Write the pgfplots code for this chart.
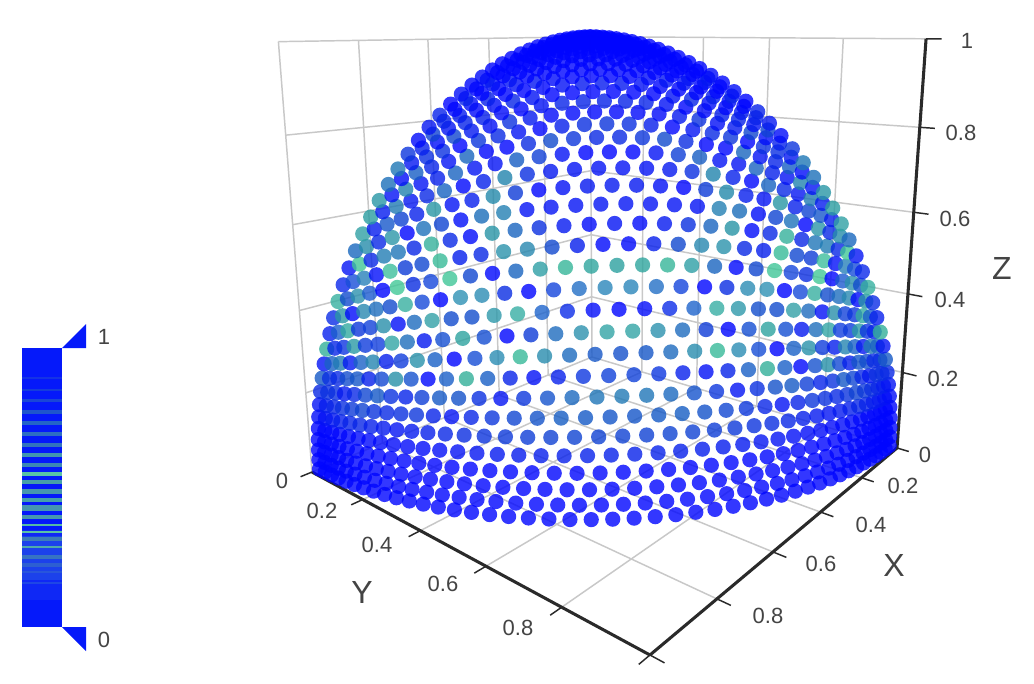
\documentclass[border=0pt]{standalone}
\usepackage{pgfplots}
\usepackage{pgfplotstable}
\usepackage{fontspec}
\setmainfont{Liberation Sans}
\pgfplotsset{compat=1.18}
\definecolor{gridg}{RGB}{200,200,200}
\definecolor{axk}{RGB}{42,42,42}
\definecolor{txt}{RGB}{68,68,68}
\definecolor{barb}{RGB}{5,25,250}
\newcommand{\U}[4]{(592*(#4)-360.06*(#1)+109.8*(#2)-45.5*(#3))/((#4)-0.2566*(#1)-0.2176*(#2)-0.0737*(#3))}
\newcommand{\V}[4]{(357*(#4)-6.1*(#1)-6.5*(#2)-323*(#3))/((#4)-0.2566*(#1)-0.2176*(#2)-0.0737*(#3))}
\newcommand{\gl}[7][gridg]{\addplot[draw=#1,line width=1.1pt,forget plot] table[row sep=\\,x expr={\U{\thisrow{x}}{\thisrow{y}}{\thisrow{z}}{1}},y expr={\V{\thisrow{x}}{\thisrow{y}}{\thisrow{z}}{1}}]{x y z\\#2 #3 #4\\#5 #6 #7\\};}
\newcommand{\ax}[7][2.3pt]{\addplot[draw=axk,line width=#1,forget plot] table[row sep=\\,x expr={\U{\thisrow{x}}{\thisrow{y}}{\thisrow{z}}{1}},y expr={\V{\thisrow{x}}{\thisrow{y}}{\thisrow{z}}{1}}]{x y z\\#2 #3 #4\\#5 #6 #7\\};}
\newcommand{\st}[5]{\addplot[draw={rgb,255:red,#3;green,#4;blue,#5},line width=#2*1pt,forget plot] coordinates {(22,#1)(62,#1)};}
\newcommand{\tl}[3]{\node[text=txt,font=\fontsize{16.5}{19}\selectfont] at (axis cs:#1,#2) {#3};}
\newcommand{\al}[3]{\node[text=txt,font=\fontsize{24}{27}\selectfont] at (axis cs:#1,#2) {#3};}
\pgfplotstableread{
a b c
43 0 0
42 1 0
41 2 0
40 3 0
39 4 0
38 5 0
37 6 0
36 7 0
35 8 0
34 9 0
33 10 0
32 11 0
31 12 0
30 13 0
29 14 0
28 15 0
27 16 0
26 17 0
25 18 0
24 19 0
23 20 0
22 21 0
21 22 0
20 23 0
19 24 0
18 25 0
17 26 0
16 27 0
15 28 0
14 29 0
13 30 0
12 31 0
11 32 0
10 33 0
9 34 0
8 35 0
7 36 0
6 37 0
5 38 0
4 39 0
3 40 0
2 41 0
1 42 0
0 43 0
42 0 1
41 1 1
40 2 1
39 3 1
38 4 1
37 5 1
36 6 1
35 7 1
34 8 1
33 9 1
32 10 1
31 11 1
30 12 1
29 13 1
28 14 1
27 15 1
26 16 1
25 17 1
24 18 1
23 19 1
22 20 1
21 21 1
20 22 1
19 23 1
18 24 1
17 25 1
16 26 1
15 27 1
14 28 1
13 29 1
12 30 1
11 31 1
10 32 1
9 33 1
8 34 1
7 35 1
6 36 1
5 37 1
4 38 1
3 39 1
2 40 1
1 41 1
0 42 1
41 0 2
40 1 2
39 2 2
38 3 2
37 4 2
36 5 2
35 6 2
34 7 2
33 8 2
32 9 2
31 10 2
30 11 2
29 12 2
28 13 2
27 14 2
26 15 2
25 16 2
24 17 2
23 18 2
22 19 2
21 20 2
20 21 2
19 22 2
18 23 2
17 24 2
16 25 2
15 26 2
14 27 2
13 28 2
12 29 2
11 30 2
10 31 2
9 32 2
8 33 2
7 34 2
6 35 2
5 36 2
4 37 2
3 38 2
2 39 2
1 40 2
0 41 2
40 0 3
39 1 3
38 2 3
37 3 3
36 4 3
35 5 3
34 6 3
33 7 3
32 8 3
31 9 3
30 10 3
29 11 3
28 12 3
27 13 3
26 14 3
25 15 3
24 16 3
23 17 3
22 18 3
21 19 3
20 20 3
19 21 3
18 22 3
17 23 3
16 24 3
15 25 3
14 26 3
13 27 3
12 28 3
11 29 3
10 30 3
9 31 3
8 32 3
7 33 3
6 34 3
5 35 3
4 36 3
3 37 3
2 38 3
1 39 3
0 40 3
39 0 4
38 1 4
37 2 4
36 3 4
35 4 4
34 5 4
33 6 4
32 7 4
31 8 4
30 9 4
29 10 4
28 11 4
27 12 4
26 13 4
25 14 4
24 15 4
23 16 4
22 17 4
21 18 4
20 19 4
19 20 4
18 21 4
17 22 4
16 23 4
15 24 4
14 25 4
13 26 4
12 27 4
11 28 4
10 29 4
9 30 4
8 31 4
7 32 4
6 33 4
5 34 4
4 35 4
3 36 4
2 37 4
1 38 4
0 39 4
38 0 5
37 1 5
36 2 5
35 3 5
34 4 5
33 5 5
32 6 5
31 7 5
30 8 5
29 9 5
28 10 5
27 11 5
26 12 5
25 13 5
24 14 5
23 15 5
22 16 5
21 17 5
20 18 5
19 19 5
18 20 5
17 21 5
16 22 5
15 23 5
14 24 5
13 25 5
12 26 5
11 27 5
10 28 5
9 29 5
8 30 5
7 31 5
6 32 5
5 33 5
4 34 5
3 35 5
2 36 5
1 37 5
0 38 5
37 0 6
36 1 6
35 2 6
34 3 6
33 4 6
32 5 6
31 6 6
30 7 6
29 8 6
28 9 6
27 10 6
26 11 6
25 12 6
24 13 6
23 14 6
22 15 6
21 16 6
20 17 6
19 18 6
18 19 6
17 20 6
16 21 6
15 22 6
14 23 6
13 24 6
12 25 6
11 26 6
10 27 6
9 28 6
8 29 6
7 30 6
6 31 6
5 32 6
4 33 6
3 34 6
2 35 6
1 36 6
0 37 6
36 0 7
35 1 7
34 2 7
33 3 7
32 4 7
31 5 7
30 6 7
29 7 7
28 8 7
27 9 7
26 10 7
25 11 7
24 12 7
23 13 7
22 14 7
21 15 7
20 16 7
19 17 7
18 18 7
17 19 7
16 20 7
15 21 7
14 22 7
13 23 7
12 24 7
11 25 7
10 26 7
9 27 7
8 28 7
7 29 7
6 30 7
5 31 7
4 32 7
3 33 7
2 34 7
1 35 7
0 36 7
35 0 8
34 1 8
33 2 8
32 3 8
31 4 8
30 5 8
29 6 8
28 7 8
27 8 8
26 9 8
25 10 8
24 11 8
23 12 8
22 13 8
21 14 8
20 15 8
19 16 8
18 17 8
17 18 8
16 19 8
15 20 8
14 21 8
13 22 8
12 23 8
11 24 8
10 25 8
9 26 8
8 27 8
7 28 8
6 29 8
5 30 8
4 31 8
3 32 8
2 33 8
1 34 8
0 35 8
34 0 9
33 1 9
32 2 9
31 3 9
30 4 9
29 5 9
28 6 9
27 7 9
26 8 9
25 9 9
24 10 9
23 11 9
22 12 9
21 13 9
20 14 9
19 15 9
18 16 9
17 17 9
16 18 9
15 19 9
14 20 9
13 21 9
12 22 9
11 23 9
10 24 9
9 25 9
8 26 9
7 27 9
6 28 9
5 29 9
4 30 9
3 31 9
2 32 9
1 33 9
0 34 9
33 0 10
32 1 10
31 2 10
30 3 10
29 4 10
28 5 10
27 6 10
26 7 10
25 8 10
24 9 10
23 10 10
22 11 10
21 12 10
20 13 10
19 14 10
18 15 10
17 16 10
16 17 10
15 18 10
14 19 10
13 20 10
12 21 10
11 22 10
10 23 10
9 24 10
8 25 10
7 26 10
6 27 10
5 28 10
4 29 10
3 30 10
2 31 10
1 32 10
0 33 10
32 0 11
31 1 11
30 2 11
29 3 11
28 4 11
27 5 11
26 6 11
25 7 11
24 8 11
23 9 11
22 10 11
21 11 11
20 12 11
19 13 11
18 14 11
17 15 11
16 16 11
15 17 11
14 18 11
13 19 11
12 20 11
11 21 11
10 22 11
9 23 11
8 24 11
7 25 11
6 26 11
5 27 11
4 28 11
3 29 11
2 30 11
1 31 11
0 32 11
31 0 12
30 1 12
29 2 12
28 3 12
27 4 12
26 5 12
25 6 12
24 7 12
23 8 12
22 9 12
21 10 12
20 11 12
19 12 12
18 13 12
17 14 12
16 15 12
15 16 12
14 17 12
13 18 12
12 19 12
11 20 12
10 21 12
9 22 12
8 23 12
7 24 12
6 25 12
5 26 12
4 27 12
3 28 12
2 29 12
1 30 12
0 31 12
30 0 13
29 1 13
28 2 13
27 3 13
26 4 13
25 5 13
24 6 13
23 7 13
22 8 13
21 9 13
20 10 13
19 11 13
18 12 13
17 13 13
16 14 13
15 15 13
14 16 13
13 17 13
12 18 13
11 19 13
10 20 13
9 21 13
8 22 13
7 23 13
6 24 13
5 25 13
4 26 13
3 27 13
2 28 13
1 29 13
0 30 13
29 0 14
28 1 14
27 2 14
26 3 14
25 4 14
24 5 14
23 6 14
22 7 14
21 8 14
20 9 14
19 10 14
18 11 14
17 12 14
16 13 14
15 14 14
14 15 14
13 16 14
12 17 14
11 18 14
10 19 14
9 20 14
8 21 14
7 22 14
6 23 14
5 24 14
4 25 14
3 26 14
2 27 14
1 28 14
0 29 14
28 0 15
27 1 15
26 2 15
25 3 15
24 4 15
23 5 15
22 6 15
21 7 15
20 8 15
19 9 15
18 10 15
17 11 15
16 12 15
15 13 15
14 14 15
13 15 15
12 16 15
11 17 15
10 18 15
9 19 15
8 20 15
7 21 15
6 22 15
5 23 15
4 24 15
3 25 15
2 26 15
1 27 15
0 28 15
27 0 16
26 1 16
25 2 16
24 3 16
23 4 16
22 5 16
21 6 16
20 7 16
19 8 16
18 9 16
17 10 16
16 11 16
15 12 16
14 13 16
13 14 16
12 15 16
11 16 16
10 17 16
9 18 16
8 19 16
7 20 16
6 21 16
5 22 16
4 23 16
3 24 16
2 25 16
1 26 16
0 27 16
26 0 17
25 1 17
24 2 17
23 3 17
22 4 17
21 5 17
20 6 17
19 7 17
18 8 17
17 9 17
16 10 17
15 11 17
14 12 17
13 13 17
12 14 17
11 15 17
10 16 17
9 17 17
8 18 17
7 19 17
6 20 17
5 21 17
4 22 17
3 23 17
2 24 17
1 25 17
0 26 17
25 0 18
24 1 18
23 2 18
22 3 18
21 4 18
20 5 18
19 6 18
18 7 18
17 8 18
16 9 18
15 10 18
14 11 18
13 12 18
12 13 18
11 14 18
10 15 18
9 16 18
8 17 18
7 18 18
6 19 18
5 20 18
4 21 18
3 22 18
2 23 18
1 24 18
0 25 18
24 0 19
23 1 19
22 2 19
21 3 19
20 4 19
19 5 19
18 6 19
17 7 19
16 8 19
15 9 19
14 10 19
13 11 19
12 12 19
11 13 19
10 14 19
9 15 19
8 16 19
7 17 19
6 18 19
5 19 19
4 20 19
3 21 19
2 22 19
1 23 19
0 24 19
23 0 20
22 1 20
21 2 20
20 3 20
19 4 20
18 5 20
17 6 20
16 7 20
15 8 20
14 9 20
13 10 20
12 11 20
11 12 20
10 13 20
9 14 20
8 15 20
7 16 20
6 17 20
5 18 20
4 19 20
3 20 20
2 21 20
1 22 20
0 23 20
22 0 21
21 1 21
20 2 21
19 3 21
18 4 21
17 5 21
16 6 21
15 7 21
14 8 21
13 9 21
12 10 21
11 11 21
10 12 21
9 13 21
8 14 21
7 15 21
6 16 21
5 17 21
4 18 21
3 19 21
2 20 21
1 21 21
0 22 21
21 0 22
20 1 22
19 2 22
18 3 22
17 4 22
16 5 22
15 6 22
14 7 22
13 8 22
12 9 22
11 10 22
10 11 22
9 12 22
8 13 22
7 14 22
6 15 22
5 16 22
4 17 22
3 18 22
2 19 22
1 20 22
0 21 22
20 0 23
19 1 23
18 2 23
17 3 23
16 4 23
15 5 23
14 6 23
13 7 23
12 8 23
11 9 23
10 10 23
9 11 23
8 12 23
7 13 23
6 14 23
5 15 23
4 16 23
3 17 23
2 18 23
1 19 23
0 20 23
19 0 24
18 1 24
17 2 24
16 3 24
15 4 24
14 5 24
13 6 24
12 7 24
11 8 24
10 9 24
9 10 24
8 11 24
7 12 24
6 13 24
5 14 24
4 15 24
3 16 24
2 17 24
1 18 24
0 19 24
18 0 25
17 1 25
16 2 25
15 3 25
14 4 25
13 5 25
12 6 25
11 7 25
10 8 25
9 9 25
8 10 25
7 11 25
6 12 25
5 13 25
4 14 25
3 15 25
2 16 25
1 17 25
0 18 25
17 0 26
16 1 26
15 2 26
14 3 26
13 4 26
12 5 26
11 6 26
10 7 26
9 8 26
8 9 26
7 10 26
6 11 26
5 12 26
4 13 26
3 14 26
2 15 26
1 16 26
0 17 26
16 0 27
15 1 27
14 2 27
13 3 27
12 4 27
11 5 27
10 6 27
9 7 27
8 8 27
7 9 27
6 10 27
5 11 27
4 12 27
3 13 27
2 14 27
1 15 27
0 16 27
15 0 28
14 1 28
13 2 28
12 3 28
11 4 28
10 5 28
9 6 28
8 7 28
7 8 28
6 9 28
5 10 28
4 11 28
3 12 28
2 13 28
1 14 28
0 15 28
14 0 29
13 1 29
12 2 29
11 3 29
10 4 29
9 5 29
8 6 29
7 7 29
6 8 29
5 9 29
4 10 29
3 11 29
2 12 29
1 13 29
0 14 29
13 0 30
12 1 30
11 2 30
10 3 30
9 4 30
8 5 30
7 6 30
6 7 30
5 8 30
4 9 30
3 10 30
2 11 30
1 12 30
0 13 30
12 0 31
11 1 31
10 2 31
9 3 31
8 4 31
7 5 31
6 6 31
5 7 31
4 8 31
3 9 31
2 10 31
1 11 31
0 12 31
11 0 32
10 1 32
9 2 32
8 3 32
7 4 32
6 5 32
5 6 32
4 7 32
3 8 32
2 9 32
1 10 32
0 11 32
10 0 33
9 1 33
8 2 33
7 3 33
6 4 33
5 5 33
4 6 33
3 7 33
2 8 33
1 9 33
0 10 33
9 0 34
8 1 34
7 2 34
6 3 34
5 4 34
4 5 34
3 6 34
2 7 34
1 8 34
0 9 34
8 0 35
7 1 35
6 2 35
5 3 35
4 4 35
3 5 35
2 6 35
1 7 35
0 8 35
7 0 36
6 1 36
5 2 36
4 3 36
3 4 36
2 5 36
1 6 36
0 7 36
6 0 37
5 1 37
4 2 37
3 3 37
2 4 37
1 5 37
0 6 37
5 0 38
4 1 38
3 2 38
2 3 38
1 4 38
0 5 38
4 0 39
3 1 39
2 2 39
1 3 39
0 4 39
3 0 40
2 1 40
1 2 40
0 3 40
2 0 41
1 1 41
0 2 41
1 0 42
0 1 42
0 0 43
}\pts
\begin{document}
\begin{tikzpicture}
\begin{axis}[
  scale only axis,width=775.5pt,height=513pt,
  xmin=0,xmax=1034,ymin=0,ymax=684,y dir=reverse,
  hide axis,clip=false,
  point meta min=0,point meta max=1,
  colormap={stripes}{
   rgb255(0pt)=(0,5,255) rgb255(100pt)=(0,5,255) rgb255(130pt)=(2,12,250) rgb255(147pt)=(9,40,230) rgb255(160pt)=(4,19,245)
   rgb255(182pt)=(16,68,210) rgb255(190pt)=(9,40,230) rgb255(200pt)=(13,54,220) rgb255(208pt)=(4,19,245)
   rgb255(222pt)=(23,95,194) rgb255(232pt)=(5,26,240) rgb255(246pt)=(25,101,190) rgb255(256pt)=(4,19,245)
   rgb255(268pt)=(42,154,162) rgb255(279pt)=(0,5,255) rgb255(290pt)=(50,175,153) rgb255(298pt)=(9,40,230)
   rgb255(303pt)=(2,12,250) rgb255(316pt)=(47,168,156) rgb255(327pt)=(0,5,255) rgb255(342pt)=(58,190,151)
   rgb255(351pt)=(18,75,205) rgb255(358pt)=(0,5,255) rgb255(370pt)=(47,168,156) rgb255(382pt)=(0,5,255)
   rgb255(388pt)=(18,75,205) rgb255(396pt)=(64,199,150) rgb255(405pt)=(18,75,205) rgb255(414pt)=(18,75,205)
   rgb255(425pt)=(64,199,150) rgb255(437pt)=(0,5,255) rgb255(443pt)=(0,5,255) rgb255(454pt)=(67,205,149)
   rgb255(465pt)=(11,47,225) rgb255(471pt)=(0,5,255) rgb255(485pt)=(67,205,149) rgb255(494pt)=(18,75,205)
   rgb255(503pt)=(0,5,255) rgb255(509pt)=(23,95,194) rgb255(518pt)=(58,190,151) rgb255(523pt)=(43,158,160)
   rgb255(529pt)=(5,26,240) rgb255(538pt)=(9,40,230) rgb255(549pt)=(55,184,152) rgb255(558pt)=(18,75,205)
   rgb255(564pt)=(0,5,255) rgb255(571pt)=(0,5,255) rgb255(581pt)=(40,151,164) rgb255(585pt)=(43,158,160)
   rgb255(591pt)=(16,68,210) rgb255(603pt)=(2,12,250) rgb255(613pt)=(27,108,186) rgb255(620pt)=(44,161,159)
   rgb255(630pt)=(4,19,245) rgb255(642pt)=(4,19,245) rgb255(653pt)=(36,140,168) rgb255(662pt)=(14,61,215)
   rgb255(669pt)=(0,5,255) rgb255(682pt)=(7,33,235) rgb255(692pt)=(34,134,172) rgb255(700pt)=(11,47,225)
   rgb255(708pt)=(4,19,245) rgb255(719pt)=(4,19,245) rgb255(730pt)=(27,108,186) rgb255(743pt)=(0,5,255)
   rgb255(753pt)=(0,5,255) rgb255(769pt)=(18,75,205) rgb255(776pt)=(9,40,230) rgb255(793pt)=(0,5,255)
   rgb255(804pt)=(13,54,220) rgb255(820pt)=(2,12,250) rgb255(837pt)=(0,5,255) rgb255(849pt)=(9,40,230)
   rgb255(865pt)=(0,5,255) rgb255(880pt)=(0,5,255) rgb255(892pt)=(5,26,240) rgb255(905pt)=(0,5,255)
   rgb255(1000pt)=(0,5,255)},
]
\addplot[fill=white,draw=none,forget plot] coordinates {(0,0)(1034,0)(1034,684)(0,684)} --cycle;
% grid: floor
\gl{0.2}{0}{0}{0.2}{1}{0}\gl{0.4}{0}{0}{0.4}{1}{0}\gl{0.6}{0}{0}{0.6}{1}{0}\gl{0.8}{0}{0}{0.8}{1}{0}
\gl{0}{0.2}{0}{1}{0.2}{0}\gl{0}{0.4}{0}{1}{0.4}{0}\gl{0}{0.6}{0}{1}{0.6}{0}\gl{0}{0.8}{0}{1}{0.8}{0}
\gl{0}{0}{0}{1}{0}{0}\gl{0}{0}{0}{0}{1}{0}
% grid: wall y=0
\gl{0}{0}{0}{0}{0}{1}\gl{0.2}{0}{0}{0.2}{0}{1}\gl{0.4}{0}{0}{0.4}{0}{1}\gl{0.6}{0}{0}{0.6}{0}{1}\gl{0.8}{0}{0}{0.8}{0}{1}\gl{1}{0}{0}{1}{0}{1}
\gl{0}{0}{0.2}{1}{0}{0.2}\gl{0}{0}{0.4}{1}{0}{0.4}\gl{0}{0}{0.6}{1}{0}{0.6}\gl{0}{0}{0.8}{1}{0}{0.8}\gl{0}{0}{1}{1}{0}{1}
% grid: wall x=0
\gl{0}{0.2}{0}{0}{0.2}{1}\gl{0}{0.4}{0}{0}{0.4}{1}\gl{0}{0.6}{0}{0}{0.6}{1}\gl{0}{0.8}{0}{0}{0.8}{1}
\gl{0}{0}{0.2}{0}{1}{0.2}\gl{0}{0}{0.4}{0}{1}{0.4}\gl{0}{0}{0.6}{0}{1}{0.6}\gl{0}{0}{0.8}{0}{1}{0.8}\gl{0}{0}{1}{0}{1}{1}
% points
\addplot[scatter,only marks,mark=*,mark size=5.7pt,scatter src=explicit,
  scatter/use mapped color={draw=mapped color,fill=mapped color,draw opacity=0,fill opacity=0.8},forget plot]
  table[
   x expr={\U{0.98*\thisrow{a}}{0.98*\thisrow{b}}{\thisrow{c}}{sqrt(\thisrow{a}*\thisrow{a}+\thisrow{b}*\thisrow{b}+\thisrow{c}*\thisrow{c})}},
   y expr={\V{0.98*\thisrow{a}}{0.98*\thisrow{b}}{\thisrow{c}}{sqrt(\thisrow{a}*\thisrow{a}+\thisrow{b}*\thisrow{b}+\thisrow{c}*\thisrow{c})}},
   meta expr={\thisrow{c}/sqrt(\thisrow{a}*\thisrow{a}+\thisrow{b}*\thisrow{b}+\thisrow{c}*\thisrow{c})}]{\pts};
% axes
\ax{1}{0}{0}{1}{1}{0}\ax{0}{1}{0}{1}{1}{0}\ax{0}{1}{0}{0}{1}{1}
\ax[1.1pt]{1}{0}{0}{1.03}{0}{0}\ax[1.1pt]{1}{0.2}{0}{1.03}{0.2}{0}\ax[1.1pt]{1}{0.4}{0}{1.03}{0.4}{0}\ax[1.1pt]{1}{0.6}{0}{1.03}{0.6}{0}\ax[1.1pt]{1}{0.8}{0}{1.03}{0.8}{0}\ax[1.1pt]{1}{1}{0}{1.03}{1}{0}
\ax[1.1pt]{0}{1}{0}{0}{1.03}{0}\ax[1.1pt]{0.2}{1}{0}{0.2}{1.03}{0}\ax[1.1pt]{0.4}{1}{0}{0.4}{1.03}{0}\ax[1.1pt]{0.6}{1}{0}{0.6}{1.03}{0}\ax[1.1pt]{0.8}{1}{0}{0.8}{1.03}{0}\ax[1.1pt]{1}{1}{0}{1}{1.03}{0}
\ax[1.1pt]{0}{1}{0.2}{0}{1.035}{0.2}\ax[1.1pt]{0}{1}{0.4}{0}{1.035}{0.4}\ax[1.1pt]{0}{1}{0.6}{0}{1.035}{0.6}\ax[1.1pt]{0}{1}{0.8}{0}{1.035}{0.8}\ax[1.1pt]{0}{1}{1}{0}{1.035}{1}
% colorbar
\addplot[fill=barb,draw=none,forget plot] coordinates {(22,348)(62,348)(62,627)(22,627)} --cycle;
\addplot[fill={rgb,255:red,15;green,40;blue,245},draw=none,forget plot] coordinates {(22,530)(62,530)(62,600)(22,600)} --cycle;
\addplot[fill={rgb,255:red,28;green,65;blue,235},draw=none,forget plot] coordinates {(22,536)(62,536)(62,580)(22,580)} --cycle;
\addplot[fill=barb,draw=none,forget plot] coordinates {(62,348)(86,348)(86,324)} --cycle;
\addplot[fill=barb,draw=none,forget plot] coordinates {(62,627)(86,627)(86,651)} --cycle;
\st{378}{1.5}{20}{50}{230}\st{390}{2}{20}{60}{220}\st{400.7}{2}{25}{70}{215}\st{412}{2.5}{30}{85}{205}\st{423}{2.5}{35}{100}{200}\st{434}{2.5}{45}{110}{195}\st{445}{3}{50}{115}{190}\st{455}{2.5}{65}{150}{175}\st{465}{3.5}{60}{135}{180}\st{474}{2.5}{90}{195}{165}\st{482}{3}{70}{160}{170}\st{491.7}{4}{70}{150}{175}\st{500}{3}{70}{160}{170}\st{508}{5}{70}{150}{175}\st{517}{3}{70}{150}{175}\st{525}{2}{85}{185}{165}\st{532}{2}{90}{195}{165}\st{538.5}{3}{60}{125}{185}\st{547}{2}{80}{170}{170}\st{557}{3}{55}{115}{195}\st{565}{2.5}{45}{95}{210}\st{572}{2}{40}{85}{220}\st{583}{2}{30}{70}{230}
% labels
\tl{104}{337}{1}\tl{104}{640}{0}
\tl{967}{41}{1}\tl{961}{133}{0.8}\tl{955}{219}{0.6}\tl{950}{300}{0.4}\tl{943}{379}{0.2}\tl{925}{455}{0}
\tl{903}{486}{0.2}\tl{871}{525}{0.4}\tl{821}{564}{0.6}\tl{768}{616}{0.8}
\tl{282}{481}{0}\tl{322}{511}{0.2}\tl{377}{545}{0.4}\tl{443}{584}{0.6}\tl{518}{628}{0.8}
\al{894}{565}{X}\al{362}{592}{Y}\al{1002}{268}{Z}
\end{axis}
\end{tikzpicture}
\end{document}
